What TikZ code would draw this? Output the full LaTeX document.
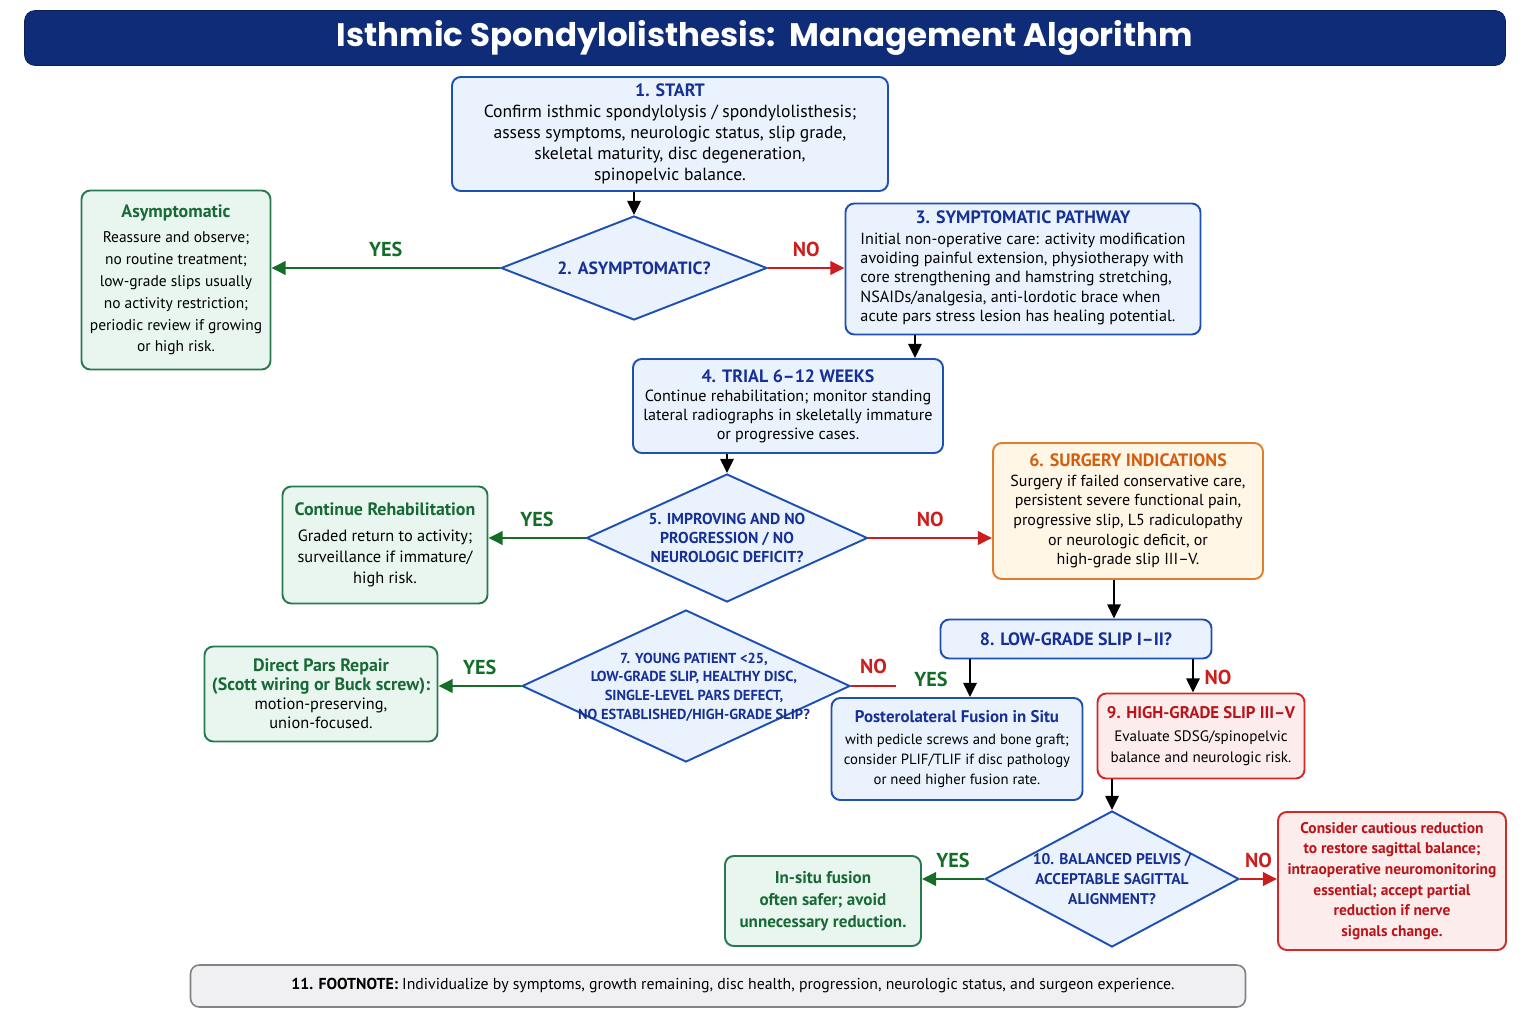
\documentclass[tikz,border=0pt]{standalone}
\usepackage{fontspec}
\setmainfont{PT Sans}
\newfontfamily\titlefont{Poppins}
\usepackage{tikz}
\usetikzlibrary{arrows.meta,positioning,shapes,calc}
\usepackage{xcolor}
\definecolor{navy}{RGB}{14,44,120}
\definecolor{blueline}{RGB}{30,80,180}
\definecolor{bluefill}{RGB}{234,243,253}
\definecolor{bluetext}{RGB}{22,48,150}
\definecolor{greenline}{RGB}{40,120,80}
\definecolor{greenfill}{RGB}{232,246,239}
\definecolor{greentext}{RGB}{25,105,55}
\definecolor{yesgreen}{RGB}{20,110,40}
\definecolor{orangeline}{RGB}{225,125,45}
\definecolor{orangefill}{RGB}{255,246,230}
\definecolor{orangetext}{RGB}{210,95,15}
\definecolor{redline}{RGB}{210,40,40}
\definecolor{redfill}{RGB}{253,236,236}
\definecolor{redtext}{RGB}{185,20,25}
\definecolor{nored}{RGB}{205,30,30}
\definecolor{grayfill}{RGB}{240,240,242}
\definecolor{grayline}{RGB}{130,130,130}
\newcommand{\boxhead}[2]{{\color{#1}\bfseries\fontsize{10.2}{12.4}\selectfont #2}}
\newcommand{\smallhead}[2]{{\color{#1}\bfseries\fontsize{9.6}{12}\selectfont #2}}

\begin{document}
\begin{tikzpicture}[x=0.02cm, y=-0.02cm, >={Triangle[length=8pt,width=7.5pt]},
	box/.style={rounded corners=5pt, line width=1.1pt, align=center, inner sep=2pt,
		font=\fontsize{10}{12}\selectfont},
	sz/.style 2 args={minimum width=#1*0.02cm, minimum height=#2*0.02cm},
	blue box/.style={box, draw=blueline, fill=bluefill},
	green box/.style={box, draw=greenline, fill=greenfill},
	orange box/.style={box, draw=orangeline, fill=orangefill},
	red box/.style={box, draw=redline, fill=redfill},
	dia/.style={diamond, draw=blueline, fill=bluefill, line width=1.1pt, inner sep=0pt},
	diatext/.style={align=center, text=bluetext, font=\bfseries\fontsize{9}{10.8}\selectfont},
	arr/.style={->, line width=1.2pt, black},
	yesarr/.style={->, line width=1.7pt, yesgreen},
	noarr/.style={->, line width=1.7pt, nored},
	yes/.style={text=yesgreen, font=\bfseries\fontsize{11.5}{13}\selectfont},
	no/.style={text=nored, font=\bfseries\fontsize{11.5}{13}\selectfont}]
	\useasboundingbox (0,0) rectangle (1536,1024);
	% Title
	\node[fill=navy, draw=navy!70!black, rounded corners=6pt, sz={1481}{55}, text=white,
		font=\titlefont\bfseries\fontsize{18.5}{20}\selectfont] (title) at (765,38)
		{Isthmic Spondylolisthesis:\ \ Management Algorithm};
	% Boxes
	\node[blue box, sz={436}{114}] (start) at (670,134)
		{\boxhead{bluetext}{1. START}\\ Confirm isthmic spondylolysis / spondylolisthesis;\\
		assess symptoms, neurologic status, slip grade,\\ skeletal maturity, disc degeneration,\\ spinopelvic balance.};
	\node[green box, sz={189}{179}, font=\fontsize{8.8}{12.4}\selectfont] (asym) at (176,280)
		{\boxhead{greentext}{Asymptomatic}\\[2pt] Reassure and observe;\\ no routine treatment;\\ low-grade slips usually\\
		no activity restriction;\\ periodic review if growing\\ or high risk.};
	\node[blue box, sz={355}{131}, font=\fontsize{9.2}{11}\selectfont] (symp) at (1023,269)
		{\boxhead{bluetext}{3. SYMPTOMATIC PATHWAY}\\[3pt]
		\begin{tabular}{@{}l@{}}Initial non-operative care: activity modification\\ avoiding painful extension, physiotherapy with\\
		core strengthening and hamstring stretching,\\ NSAIDs/analgesia, anti-lordotic brace when\\
		acute pars stress lesion has healing potential.\end{tabular}};
	\node[blue box, sz={310}{94}, font=\fontsize{9.2}{10.8}\selectfont] (trial) at (788,406)
		{\boxhead{bluetext}{4. TRIAL 6--12 WEEKS}\\ Continue rehabilitation; monitor standing\\
		lateral radiographs in skeletally immature\\ or progressive cases.};
	\node[green box, sz={205}{117}, font=\fontsize{9.3}{12}\selectfont] (rehab) at (385,545)
		{\boxhead{greentext}{Continue Rehabilitation}\\[3pt] Graded return to activity;\\ surveillance if immature/\\ high risk.};
	\node[orange box, sz={270}{136}, font=\fontsize{9.1}{11.2}\selectfont] (surg) at (1128,511)
		{\boxhead{orangetext}{6. SURGERY INDICATIONS}\\ Surgery if failed conservative care,\\ persistent severe functional pain,\\
		progressive slip, L5 radiculopathy\\ or neurologic deficit, or\\ high-grade slip III--V.};
	\node[blue box, sz={271}{39}] (low) at (1076,639) {\boxhead{bluetext}{8. LOW-GRADE SLIP I--II?}};
	\node[green box, sz={233}{95}, font=\fontsize{9.3}{10.8}\selectfont] (pars) at (321,694)
		{\boxhead{greentext}{Direct Pars Repair}\\ \boxhead{greentext}{(Scott wiring or Buck screw):}\\
		motion-preserving,\\ union-focused.};
	\node[blue box, sz={251}{102}, font=\fontsize{8.4}{11.3}\selectfont] (post) at (957,749)
		{\smallhead{bluetext}{Posterolateral Fusion in Situ}\\[1pt] with pedicle screws and bone graft;\\
		consider PLIF/TLIF if disc pathology\\ or need higher fusion rate.};
	\node[red box, sz={207}{85}, font=\fontsize{8.6}{11.8}\selectfont] (high) at (1201,736)
		{\smallhead{redtext}{9. HIGH-GRADE SLIP III--V}\\[1pt] Evaluate SDSG/spinopelvic\\ balance and neurologic risk.};
	\node[green box, sz={196}{90}, text=greentext, font=\bfseries\fontsize{9.7}{12.4}\selectfont] (insitu) at (823,901)
		{In-situ fusion\\ often safer; avoid\\ unnecessary reduction.};
	\node[red box, sz={228}{138}, text=redtext, font=\bfseries\fontsize{8.8}{11.8}\selectfont] (reduce) at (1392,881)
		{Consider cautious reduction\\ to restore sagittal balance;\\ intraoperative neuromonitoring\\
		essential; accept partial\\ reduction if nerve\\ signals change.};
	\node[box, draw=grayline, fill=grayfill, sz={1055}{42}, line width=0.9pt, font=\fontsize{9}{10}\selectfont] (foot) at (718,986)
		{\hspace*{0.6cm}\textbf{11. FOOTNOTE:} Individualize by symptoms, growth remaining, disc health, progression, neurologic status, and surgeon experience.};
	% Decisions
	\node[dia, sz={266}{104}] (d2) at (634,268) {};
	\node[diatext, font=\bfseries\fontsize{10.1}{11}\selectfont] (d2t) at (d2) {2. ASYMPTOMATIC?};
	\node[dia, sz={281}{128}] (d5) at (727,538) {};
	\node[diatext] (d5t) at (d5) {5. IMPROVING AND NO\\ PROGRESSION / NO\\ NEUROLOGIC DEFICIT?};
	\node[dia, sz={328}{152}] (d7) at (686,686) {};
	\node[diatext, font=\bfseries\fontsize{8.25}{10.6}\selectfont] (d7t) at (694,687)
		{7. YOUNG PATIENT <25,\\ LOW-GRADE SLIP, HEALTHY DISC,\\ SINGLE-LEVEL PARS DEFECT,\\ NO ESTABLISHED/HIGH-GRADE SLIP?};
	\node[dia, sz={254}{136}] (d10) at (1112,879) {};
	\node[diatext, font=\bfseries\fontsize{8.8}{11.2}\selectfont] (d10t) at (d10)
		{10. BALANCED PELVIS /\\ ACCEPTABLE SAGITTAL\\ ALIGNMENT?};
	% Connectors
	\draw[arr] (start.south -| d2.north) -- (d2.north);
	\draw[yesarr] (d2.west) -- (d2.west -| asym.east) node[yes, midway, above=2pt] (y2) {YES};
	\draw[noarr] (d2.east) -- (d2.east -| symp.west) node[no, midway, above=2pt] (n2) {NO};
	\draw[arr] ([xshift=-0.58cm]trial.north east |- symp.south) -- ([xshift=-0.58cm]trial.north east);
	\draw[arr] (trial.south -| d5.north) -- (d5.north);
	\draw[yesarr] (d5.west) -- (d5.west -| rehab.east) node[yes, midway, above=2pt] (y5) {YES};
	\draw[noarr] (d5.east) -- (d5.east -| surg.west) node[no, midway, above=2pt] (n5) {NO};
	\draw[arr] ([xshift=-0.28cm]surg.south) -- ([xshift=-0.28cm]surg.south |- low.north);
	\draw[arr] ([xshift=0.26cm]post.north |- low.south) -- ([xshift=0.26cm]post.north);
	\node[yes] (y8) at (931,679) {YES};
	\draw[arr] ([xshift=-0.16cm]high.north |- low.south) -- ([xshift=-0.16cm]high.north);
	\node[no] (n8) at (1218,677) {NO};
	\draw[yesarr] (d7.west) -- (d7.west -| pars.east) node[yes, midway, above=2pt] (y7) {YES};
	\coordinate (d7no) at ($(d7.east)+(45,0)$);
	\draw[nored, line width=1.7pt] (d7.east) -- (d7no) node[no, midway, above=3pt] (n7) {NO};
	\draw[arr] (high.south -| d10.north) -- (d10.north);
	\draw[yesarr] (d10.west) -- (d10.west -| insitu.east) node[yes, midway, above=2pt] (y10) {YES};
	\draw[noarr] (d10.east) -- (d10.east -| reduce.west) node[no, midway, above=2pt] (n10) {NO};
\end{tikzpicture}
\end{document}
